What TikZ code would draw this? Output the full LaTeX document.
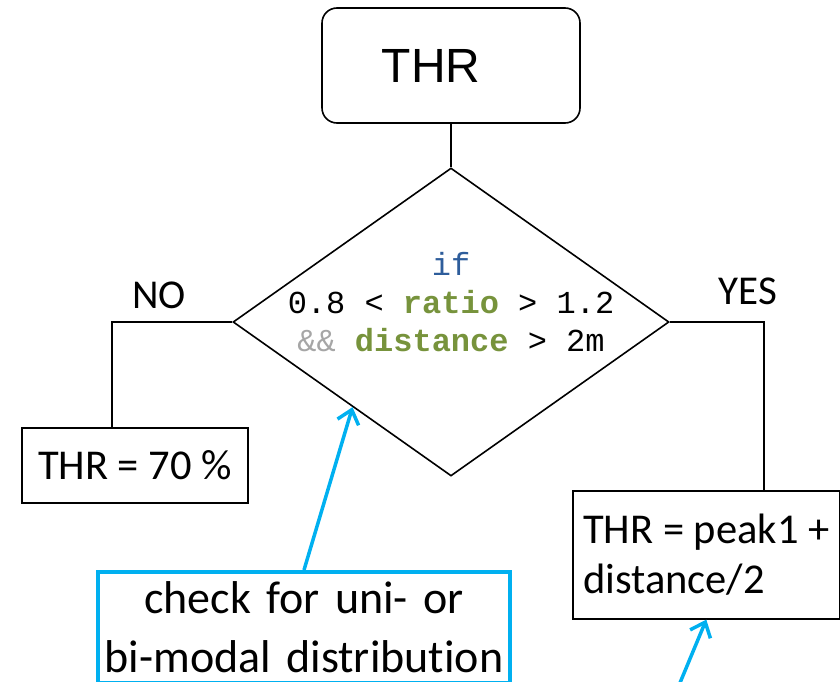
\documentclass[tikz,border=0pt]{standalone}
\usepackage{fontspec}
\setmainfont{Carlito}[Ligatures=NoCommon]
\newfontfamily\arialfont{Liberation Sans}
\newfontfamily\codefont{Liberation Mono}
\usetikzlibrary{shapes.geometric,arrows.meta,calc}
\definecolor{hlblue}{HTML}{00B0F0}
\definecolor{codegreen}{HTML}{77933C}
\definecolor{codeblue}{HTML}{2E5D9B}
\definecolor{codegray}{HTML}{A6A6A6}
\tikzset{
  conn/.style={draw=black, line width=1.6pt},
  flowbox/.style={draw=black, line width=1.6pt, inner sep=0pt},
  startbox/.style={flowbox, rounded corners=15pt, minimum width=258pt, minimum height=115pt, font=\arialfont\fontsize{48}{56}\selectfont},
  decision/.style={diamond, draw=black, line width=1.6pt, inner sep=0pt, minimum width=436pt, minimum height=308pt},
  lbl/.style={font=\fontsize{41}{46}\selectfont, inner sep=0pt},
  note/.style={draw=hlblue, line width=3.5pt, inner sep=0pt},
  hlarrow/.style={draw=hlblue, line width=3.5pt, -{Straight Barb[length=13pt,width=22pt,line width=3.5pt]}}
}
\begin{document}
\begin{tikzpicture}[x=1pt,y=-1pt]
\useasboundingbox (0,0) rectangle (840,682);
\clip (0,0) rectangle (840,682);
% start
\node[startbox] (thr) at (451,65.5) {THR\hspace*{40pt}};
% decision
\node[decision] (dia) at (451,322) {\smash{\makebox[0pt]{\raisebox{10pt}{\codefont\fontsize{32}{38}\selectfont
  \begin{tabular}[c]{@{}c@{}}
  \textcolor{codeblue}{if}\\
  0.8 < \textcolor{codegreen}{\bfseries ratio} > 1.2\\
  \textcolor{codegray}{\&\&} \textcolor{codegreen}{\bfseries distance} > 2m
  \end{tabular}}}}};
% outcome boxes
\node[flowbox, minimum width=226pt, minimum height=75pt, font=\fontsize{42.5}{48}\selectfont] (no) at (135,465.5) {THR = 70 \%};
\node[flowbox, anchor=north west, minimum width=267pt, minimum height=128pt, align=left, font=\fontsize{42.5}{50}\selectfont] (yes) at (572,490) {THR = peak1 +\\distance/2};
% labels
\node[lbl] (nolbl) at (159,295) {NO};
\node[lbl] (yeslbl) at (748,291) {YES};
% connectors
\draw[conn] (thr.south) -- (dia.north);
\draw[conn] (dia.west) -| ([xshift=-23pt]no.north);
\draw[conn] (dia.east) -| ([xshift=57.5pt]yes.north);
% note
\node[note, anchor=north, minimum width=412pt, text width=412pt, align=center, inner ysep=10pt, font=\fontsize{46}{59}\selectfont] (chk) at (304,570) {check for uni- or\\bi-modal distribution\\[10pt]};
\coordinate (diaedge) at ($(dia.west)!0.55!(dia.south)$);
\draw[hlarrow] (chk.north) -- (diaedge);
\coordinate (arrstart) at (677,690);
\draw[hlarrow] (arrstart) -- (yes.south);
\end{tikzpicture}
\end{document}
